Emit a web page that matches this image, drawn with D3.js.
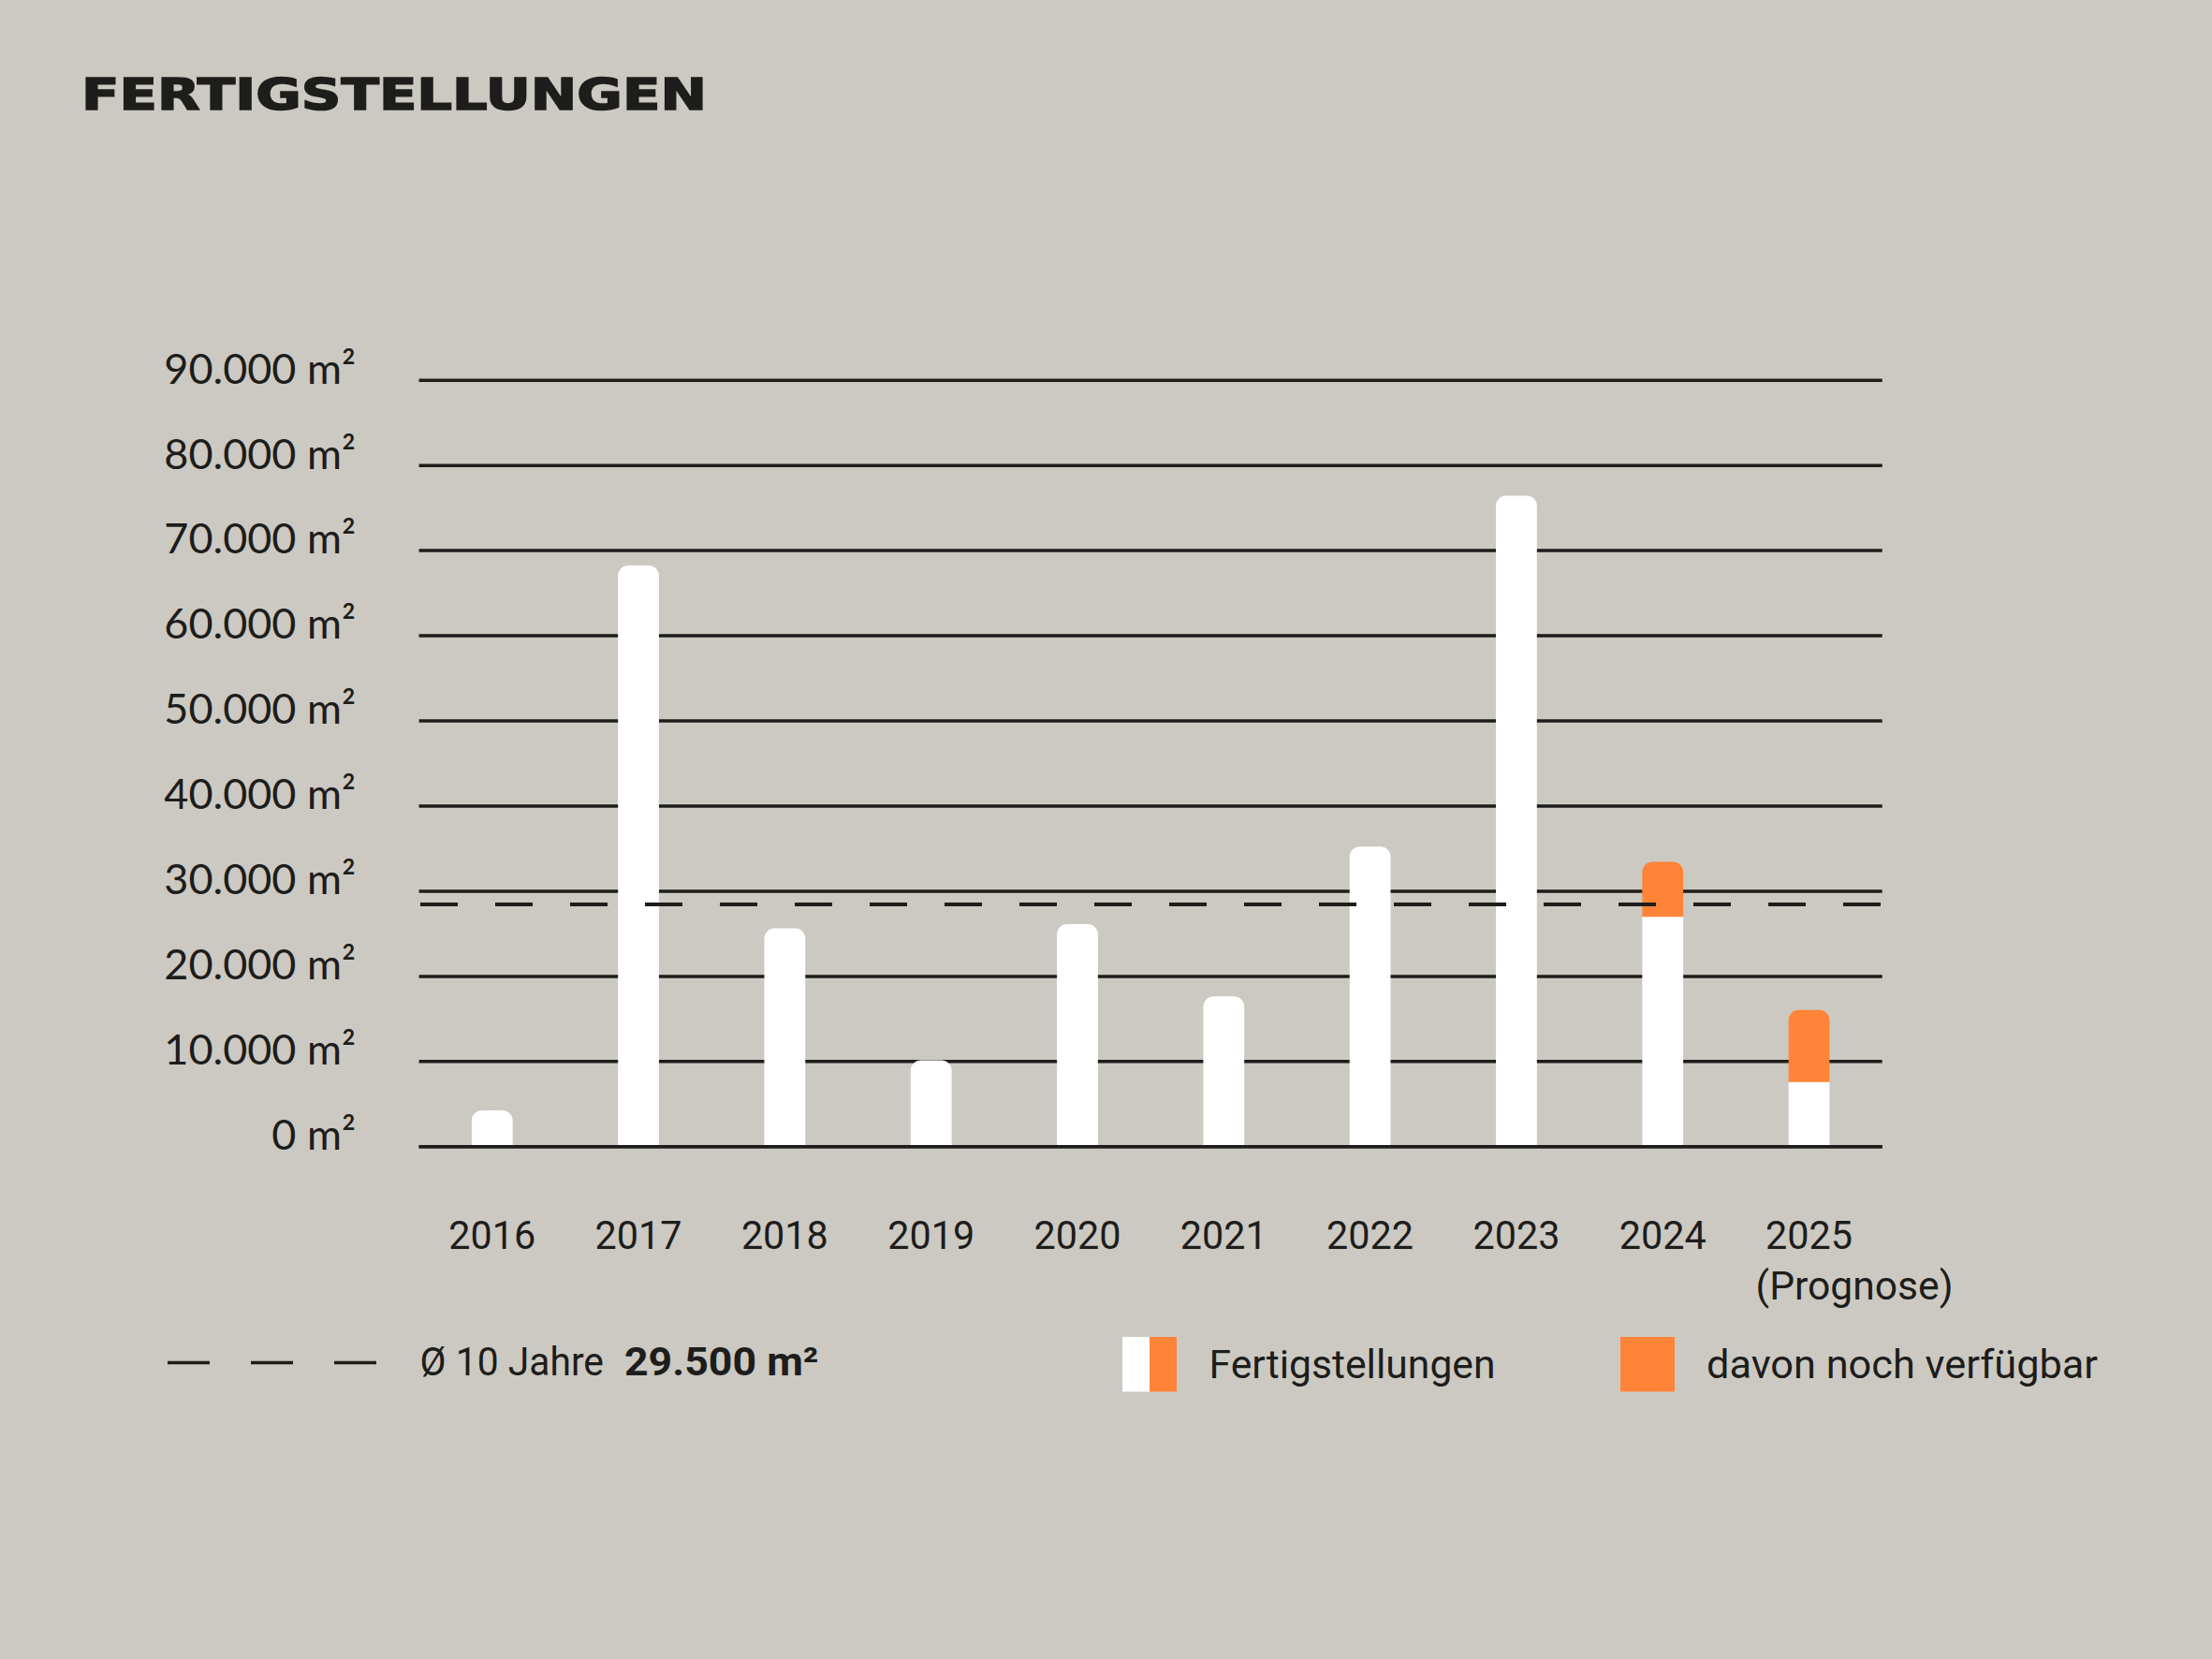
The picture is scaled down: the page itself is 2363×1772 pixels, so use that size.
<!DOCTYPE html>
<html>
<head>
<meta charset="utf-8">
<script src="https://cdn.jsdelivr.net/npm/d3@7"></script>
<style>
  html, body { margin: 0; padding: 0; background: #CCC9C2; }
  svg { display: block; }
</style>
</head>
<body>
<svg id="chart" width="2363" height="1772"></svg>
<script>
// ---- Data ----
const years = ["2016", "2017", "2018", "2019", "2020", "2021", "2022", "2023", "2024", "2025"];
const fertigstellungen = [4200, 68200, 25600, 10100, 26100, 17600, 35200, 76400, 33400, 16000];
const davonVerfuegbar = [0, 0, 0, 0, 0, 0, 0, 0, 6400, 8400];
const yTicks = [0, 10000, 20000, 30000, 40000, 50000, 60000, 70000, 80000, 90000];
const avgDrawn = 28400;          // position of the dashed average line as drawn
const avgLabel = "29.500 m²";
const title = "FERTIGSTELLUNGEN";
const legendLabels = ["Fertigstellungen", "davon noch verfügbar"];

// ---- Styles ----
const BG = "#CCC9C2", INK = "#1D1D1B", ORANGE = "#FF8438", WHITE = "#FFFFFF";

const svg = d3.select("#chart");
svg.append("rect").attr("width", 2363).attr("height", 1772).attr("fill", BG);

const pL = 447.6, pR = 2010.7, pT = 405.7, pB = 1224.3;

const x = d3.scaleBand().domain(years).range([pL, pR]).paddingInner(0.72).paddingOuter(0.36);
const y = d3.scaleLinear().domain([0, 90000]).range([pB, pT]);

const de = d3.formatLocale({ decimal: ",", thousands: ".", grouping: [3], currency: ["", "€"] });
const fmt = de.format(",.0f");

// Title
svg.append("text")
  .attr("x", 87).attr("y", 117.3)
  .attr("font-family", "DejaVu Sans").attr("font-weight", 700).attr("font-size", 47)
  .attr("fill", INK).attr("stroke", INK).attr("stroke-width", 1.6)
  .attr("textLength", 668).attr("lengthAdjust", "spacingAndGlyphs")
  .text(title);

// Grid lines
const grid = svg.append("g").attr("transform", `translate(${pL},0)`)
  .call(d3.axisLeft(y).tickValues(yTicks).tickSize(-(pR - pL)).tickFormat(""));
grid.select(".domain").remove();
grid.selectAll(".tick line").attr("stroke", INK).attr("stroke-width", 3.5);

// Y labels
const yAxis = svg.append("g").attr("transform", "translate(380,0)")
  .call(d3.axisLeft(y).tickValues(yTicks).tickSize(0).tickPadding(0).tickFormat(d => fmt(d) + " m²"));
yAxis.select(".domain").remove();
yAxis.selectAll(".tick text")
  .attr("dy", "0.075em")
  .attr("font-family", "Lato").attr("font-weight", 400).attr("font-size", 45).attr("fill", INK);

// Bars
function topRounded(x0, w, yTop, yBot, r) {
  const p = d3.path();
  r = Math.min(r, (yBot - yTop), w / 2);
  p.moveTo(x0, yBot);
  p.lineTo(x0, yTop + r);
  p.arcTo(x0, yTop, x0 + r, yTop, r);
  p.lineTo(x0 + w - r, yTop);
  p.arcTo(x0 + w, yTop, x0 + w, yTop + r, r);
  p.lineTo(x0 + w, yBot);
  p.closePath();
  return p.toString();
}

const rows = years.map((yr, i) => ({ year: yr, total: fertigstellungen[i], avail: davonVerfuegbar[i] }));
const bars = svg.append("g");
const bw = x.bandwidth();
bars.selectAll("path.white").data(rows).join("path")
  .attr("class", "white")
  .attr("fill", WHITE)
  .attr("d", d => d.avail > 0
    ? `M${x(d.year)},${y(0)}V${y(d.total - d.avail)}H${x(d.year) + bw}V${y(0)}Z`
    : topRounded(x(d.year), bw, y(d.total), y(0), 11));
bars.selectAll("path.orange").data(rows.filter(d => d.avail > 0)).join("path")
  .attr("class", "orange")
  .attr("fill", ORANGE)
  .attr("d", d => topRounded(x(d.year), bw, y(d.total), y(d.total - d.avail) + 0.5, 11));

// zero line on top
svg.append("line").attr("x1", pL).attr("x2", pR).attr("y1", y(0) + 0.5).attr("y2", y(0) + 0.5)
  .attr("stroke", INK).attr("stroke-width", 3.5);

// Average dashed line (on top of bars)
svg.append("line")
  .attr("x1", 449).attr("x2", pR)
  .attr("y1", y(avgDrawn)).attr("y2", y(avgDrawn))
  .attr("stroke", INK).attr("stroke-width", 4).attr("stroke-dasharray", "40 40");

// X axis labels
const xAxis = svg.append("g").attr("transform", `translate(0,${pB})`)
  .call(d3.axisBottom(x).tickSize(0).tickPadding(79.5));
xAxis.select(".domain").remove();
xAxis.selectAll(".tick text")
  .attr("font-family", "Roboto").attr("font-size", 43).attr("fill", INK)
  .attr("textLength", 93).attr("lengthAdjust", "spacingAndGlyphs");
xAxis.selectAll(".tick").filter(d => d === "2025")
  .append("text")
  .attr("x", -57).attr("y", 163.5)
  .attr("text-anchor", "start")
  .attr("font-family", "Roboto").attr("font-size", 43).attr("fill", INK)
  .attr("textLength", 211).attr("lengthAdjust", "spacingAndGlyphs")
  .text("(Prognose)");

// Legend: average
svg.append("line")
  .attr("x1", 179).attr("x2", 402).attr("y1", 1455.5).attr("y2", 1455.5)
  .attr("stroke", INK).attr("stroke-width", 3.5).attr("stroke-dasharray", "45 44");
svg.append("text")
  .attr("x", 448.5).attr("y", 1469.3)
  .attr("font-family", "Roboto").attr("font-size", 42).attr("fill", INK)
  .attr("textLength", 196.5).attr("lengthAdjust", "spacingAndGlyphs")
  .text("Ø 10 Jahre");
svg.append("text")
  .attr("x", 667).attr("y", 1469.3)
  .attr("font-family", "Roboto").attr("font-weight", 700).attr("font-size", 42).attr("fill", INK)
  .attr("textLength", 207.5).attr("lengthAdjust", "spacingAndGlyphs")
  .text(avgLabel);

// Legend: swatches
svg.append("rect").attr("x", 1199).attr("y", 1428).attr("width", 29).attr("height", 58.5).attr("fill", WHITE);
svg.append("rect").attr("x", 1228).attr("y", 1428).attr("width", 29).attr("height", 58.5).attr("fill", ORANGE);
svg.append("text")
  .attr("x", 1291.5).attr("y", 1471.7)
  .attr("font-family", "Roboto").attr("font-size", 42).attr("fill", INK)
  .attr("textLength", 306).attr("lengthAdjust", "spacingAndGlyphs")
  .text(legendLabels[0]);
svg.append("rect").attr("x", 1731).attr("y", 1428).attr("width", 58).attr("height", 58.5).attr("fill", ORANGE);
svg.append("text")
  .attr("x", 1823).attr("y", 1471.7)
  .attr("font-family", "Roboto").attr("font-size", 42).attr("fill", INK)
  .attr("textLength", 418).attr("lengthAdjust", "spacingAndGlyphs")
  .text(legendLabels[1]);
</script>
</body>
</html>
